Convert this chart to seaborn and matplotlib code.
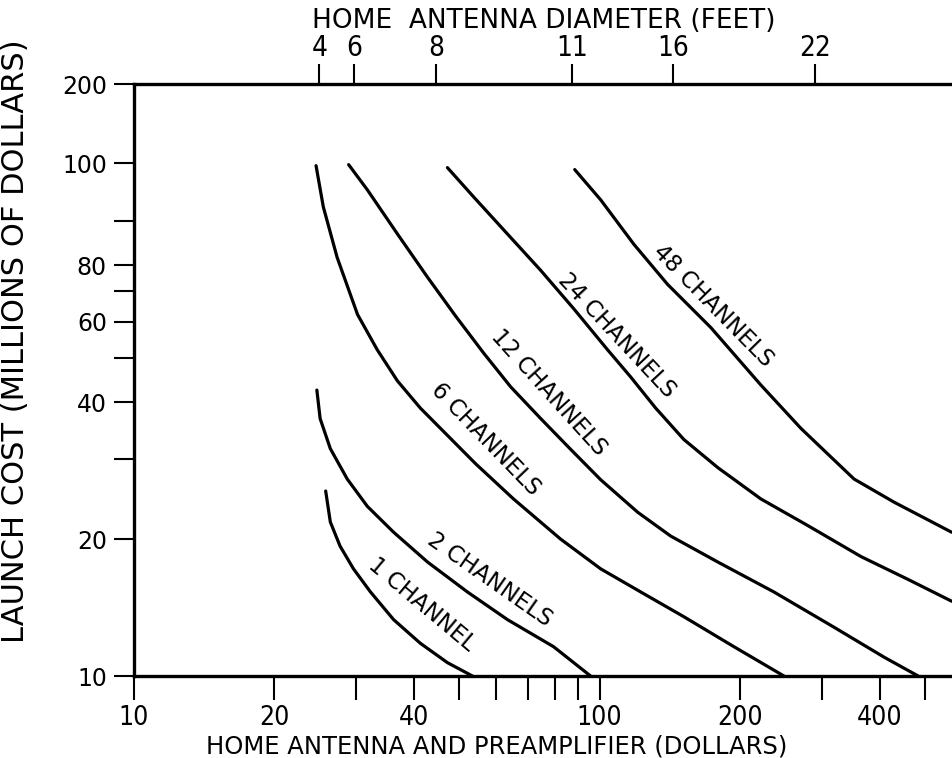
import numpy as np
import pandas as pd
import matplotlib
matplotlib.use("Agg")
import matplotlib.pyplot as plt
from matplotlib.ticker import FixedLocator, NullLocator, FixedFormatter
import seaborn as sns

# ---------------- data ----------------
ch1_x = [25.8, 26.4, 27.7, 29.6, 32.2, 36.1, 41.2, 47.1, 53.3]
ch1_y = [25.5, 21.8, 19.3, 17.2, 15.3, 13.3, 11.8, 10.7, 10.0]

ch2_x = [24.7, 25.1, 26.4, 28.7, 31.7, 36.1, 42.7, 52.0, 63.4, 79.6, 95.6]
ch2_y = [42.5, 36.8, 31.6, 27.1, 23.6, 20.7, 17.8, 15.3, 13.3, 11.6, 10.0]

ch6_x = [24.6, 25.5, 27.3, 30.2, 33.3, 36.8, 41.2, 47.1, 54.1, 65.3, 82.4, 100.5, 122.5, 151.6, 194.2, 248.7]
ch6_y = [132.3, 107.4, 83.2, 62.3, 52.1, 44.5, 38.8, 33.8, 29.3, 24.5, 20.0, 17.2, 15.3, 13.5, 11.6, 10.0]

ch12_x = [28.9, 31.7, 36.8, 42.7, 49.0, 56.3, 64.4, 74.7, 86.6, 100.5, 120.7, 142.1, 179.4, 236.7, 318.6, 408.1, 483.0]
ch12_y = [133.0, 117.1, 93.6, 75.2, 61.9, 51.3, 43.2, 36.8, 31.5, 27.0, 22.9, 20.3, 17.8, 15.3, 12.8, 11.0, 10.0]

ch24_x = [47.1, 53.6, 63.4, 74.7, 87.9, 104.0, 116.6, 131.9, 151.6, 179.4, 221.9, 280.1, 364.1, 459.6, 570.0]
ch24_y = [131.0, 113.0, 93.6, 77.9, 64.2, 52.1, 45.4, 38.8, 33.1, 28.7, 24.5, 21.4, 18.3, 16.3, 14.6]

ch48_x = [88.4, 100.5, 118.4, 140.0, 173.3, 221.9, 270.6, 351.7, 428.8, 570.0]
ch48_y = [129.7, 111.3, 88.9, 72.5, 58.3, 43.6, 35.0, 27.1, 24.1, 20.7]

curve_names = ["1 CHANNEL", "2 CHANNELS", "6 CHANNELS", "12 CHANNELS", "24 CHANNELS", "48 CHANNELS"]

x_ticks = [10, 20, 30, 40, 50, 60, 70, 80, 90, 100, 200, 300, 400, 500]
x_tick_labels = ["10", "20", "", "40", "", "", "", "", "", "100", "200", "", "400", ""]
y_ticks = [10, 20, 30, 40, 50, 60, 70, 80, 100, 134, 200]
y_tick_labels = ["10", "20", "", "40", "", "60", "", "80", "", "100", "200"]

antenna_ft = ["4", "6", "8", "11", "16", "22"]
antenna_cost = [25.0, 29.7, 44.6, 87.1, 144.0, 290.0]

# ---------------- build long-form table ----------------
series = [(ch1_x, ch1_y), (ch2_x, ch2_y), (ch6_x, ch6_y),
          (ch12_x, ch12_y), (ch24_x, ch24_y), (ch48_x, ch48_y)]
frames = []
for name, (xs, ys) in zip(curve_names, series):
    frames.append(pd.DataFrame({"cost": xs, "launch": ys, "curve": name}))
df = pd.concat(frames, ignore_index=True)

# ---------------- figure ----------------
sns.set_style("white")
plt.rcParams["font.family"] = ["DejaVu Sans"]
for key in ["text.color", "axes.labelcolor", "xtick.color", "ytick.color", "axes.edgecolor"]:
    plt.rcParams[key] = "black"
narrow = ["DejaVu Sans Condensed", "Liberation Sans Narrow", "DejaVu Sans"]

fig = plt.figure(figsize=(9.52, 7.58), dpi=100)
ax = fig.add_axes([134 / 952, 82 / 758, 818 / 952, 592 / 758])
ax.set_xscale("log")
ax.set_yscale("log")

sns.lineplot(data=df, x="cost", y="launch", hue="curve", units="curve",
             estimator=None, sort=False,
             palette=["black"] * len(curve_names), legend=False,
             linewidth=2.3, ax=ax)

ax.set_xlim(10, 571)
ax.set_ylim(10, 200)

for s in ["left", "bottom", "top"]:
    ax.spines[s].set_visible(True)
    ax.spines[s].set_linewidth(2.4)
ax.spines["right"].set_visible(False)

ax.xaxis.set_major_locator(FixedLocator(x_ticks))
ax.xaxis.set_major_formatter(FixedFormatter(x_tick_labels))
ax.xaxis.set_minor_locator(NullLocator())
ax.yaxis.set_major_locator(FixedLocator(y_ticks))
ax.yaxis.set_major_formatter(FixedFormatter(y_tick_labels))
ax.yaxis.set_minor_locator(NullLocator())
ax.tick_params(axis="x", which="major", direction="out", length=17, width=1.5,
               bottom=True, top=False, pad=4, labelsize=19)
ax.tick_params(axis="y", which="major", direction="out", length=14.5, width=1.5,
               left=True, right=False, pad=5, labelsize=17)
for lab in ax.get_xticklabels():
    lab.set_family(narrow)
    lab.set_stretch("condensed")

ax.set_xlabel("HOME ANTENNA AND PREAMPLIFIER (DOLLARS)", fontsize=17.5)
ax.xaxis.set_label_coords(0.443, -0.099)
ax.set_ylabel("LAUNCH COST (MILLIONS OF DOLLARS)", fontsize=22)
ax.yaxis.set_label_coords(-0.127, 0.566)

# top axis: antenna diameter
ax2 = ax.twiny()
ax2.set_xscale("log")
ax2.set_xlim(ax.get_xlim())
ax2.xaxis.set_major_locator(FixedLocator(antenna_cost))
ax2.xaxis.set_major_formatter(FixedFormatter(antenna_ft))
ax2.xaxis.set_minor_locator(NullLocator())
ax2.tick_params(axis="x", direction="out", length=14.5, width=1.5, pad=1.5, labelsize=20)
for lab in ax2.get_xticklabels():
    lab.set_family(narrow)
    lab.set_stretch("condensed")
for s in ax2.spines.values():
    s.set_visible(False)
ax2.set_xlabel("HOME  ANTENNA DIAMETER (FEET)", fontsize=19)
ax2.xaxis.label.set_va("center")
ax2.xaxis.set_label_coords(0.501, 1.107)

# curve labels
label_pos = [(41.4, 14.35, -40), (58.0, 16.3, -35), (56.8, 33.1, -46),
             (77.7, 41.9, -48), (108.8, 55.9, -47), (175.0, 65.2, -45.5)]
for name, (lx, ly, rot) in zip(curve_names, label_pos):
    ax.text(lx, ly, name, rotation=rot, rotation_mode="anchor",
            ha="center", va="center", fontsize=16.5)

fig.savefig("out.png", dpi=100, facecolor="white")
